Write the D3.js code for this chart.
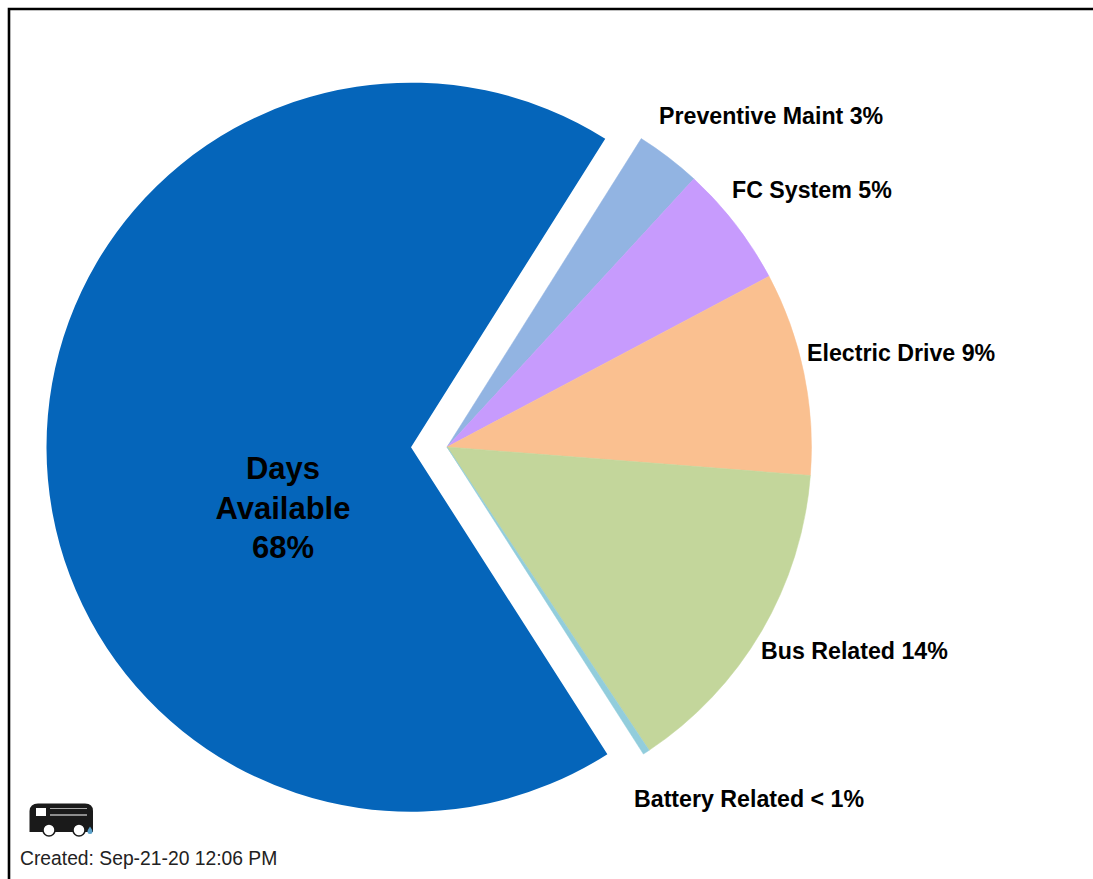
<!DOCTYPE html>
<html>
<head>
<meta charset="utf-8">
<script src="https://cdn.jsdelivr.net/npm/d3@7"></script>
<style>
html,body{margin:0;padding:0;background:#fff;overflow:hidden}
svg{display:block;font-family:"Liberation Sans",Arial,sans-serif}
</style>
</head>
<body>
<div id="chart"></div>
<script>
const categories = ["Days Available", "Preventive Maint", "FC System", "Electric Drive", "Bus Related", "Battery Related"];
const values = [68, 2.9, 5.4, 9, 14.4, 0.3];
const sliceLabels = [["Days", "Available", "68%"], ["Preventive Maint 3%"], ["FC System 5%"], ["Electric Drive 9%"], ["Bus Related 14%"], ["Battery Related < 1%"]];
const colors = ["#0565BA", "#92B4E2", "#C79BFD", "#FAC090", "#C3D69B", "#92CDDC"];
const footerText = "Created: Sep-21-20 12:06 PM";

const width = 1093, height = 879;
const cx = 447, cy = 447, radius = 364.5, explode = 36;
const startDeg = 147.4;
const toRad = d => d * Math.PI / 180;

const svg = d3.select("#chart").append("svg").attr("width", width).attr("height", height);

svg.append("rect").attr("width", width).attr("height", height).attr("fill", "#fff");
svg.append("path").attr("d", `M9,${height + 5}V9H${width + 5}`)
  .attr("fill", "none").attr("stroke", "#000").attr("stroke-width", 2.6);

const pie = d3.pie().sort(null).startAngle(toRad(startDeg)).endAngle(toRad(startDeg + 360));
const arcs = pie(values);
const arc = d3.arc().innerRadius(0).outerRadius(radius);

const offset = (d, i) => {
  if (i !== 0) return [0, 0];
  const mid = (d.startAngle + d.endAngle) / 2;
  return [Math.sin(mid) * explode, -Math.cos(mid) * explode];
};

const plot = svg.append("g").attr("transform", `translate(${cx},${cy})`);
plot.selectAll("path.slice").data(arcs).join("path")
  .attr("class", "slice")
  .attr("d", arc)
  .attr("fill", (d, i) => colors[i])
  .attr("stroke", (d, i) => i === 0 ? "none" : colors[i])
  .attr("stroke-width", 0.5)
  .attr("transform", (d, i) => `translate(${offset(d, i)})`);

// label anchors: [left x, baseline y] in page pixels; centred for the big slice
const labelPos = [[283, 479], [659, 124], [732, 197.5], [807, 360.5], [761, 658.5], [634, 806.5]];
labelPos.slice(1).forEach((p, k) => {
  svg.append("text").attr("x", p[0]).attr("y", p[1])
    .attr("font-size", 23.2).attr("font-weight", 700).attr("fill", "#000")
    .text(sliceLabels[k + 1][0]);
});
svg.append("text").attr("text-anchor", "middle")
  .attr("font-size", 31).attr("font-weight", 700).attr("fill", "#000")
  .selectAll("tspan").data(sliceLabels[0]).join("tspan")
  .attr("x", labelPos[0][0]).attr("y", (d, i) => labelPos[0][1] + i * 39.5).text(d => d);

// bus logo
const bus = svg.append("g");
bus.append("path").attr("d", "M29.5,832V811Q30,803.5,38,803.5H85Q93,803.5,93,811V832Z").attr("fill", "#1a1a1a");
bus.append("rect").attr("x", 36).attr("y", 808).attr("width", 10).attr("height", 8).attr("fill", "#fff");
bus.append("line").attr("x1", 50).attr("x2", 87).attr("y1", 808.5).attr("y2", 808.5).attr("stroke", "#aaa").attr("stroke-width", 1);
bus.append("line").attr("x1", 50).attr("x2", 87).attr("y1", 815).attr("y2", 815).attr("stroke", "#fff").attr("stroke-width", 1);
[49, 79].forEach(x => bus.append("circle").attr("cx", x).attr("cy", 830).attr("r", 6)
  .attr("fill", "#fff").attr("stroke", "#1a1a1a").attr("stroke-width", 1.5));
bus.append("path").attr("d", "M90,826.5Q87.5,830,87.5,831.5A2.5,2.5,0,0,0,92.5,831.5Q92.5,830,90,826.5Z").attr("fill", "#5a9fc8");

svg.append("text").attr("x", 20).attr("y", 865)
  .attr("font-size", 19.3).attr("fill", "#222").text(footerText);
</script>
</body>
</html>
